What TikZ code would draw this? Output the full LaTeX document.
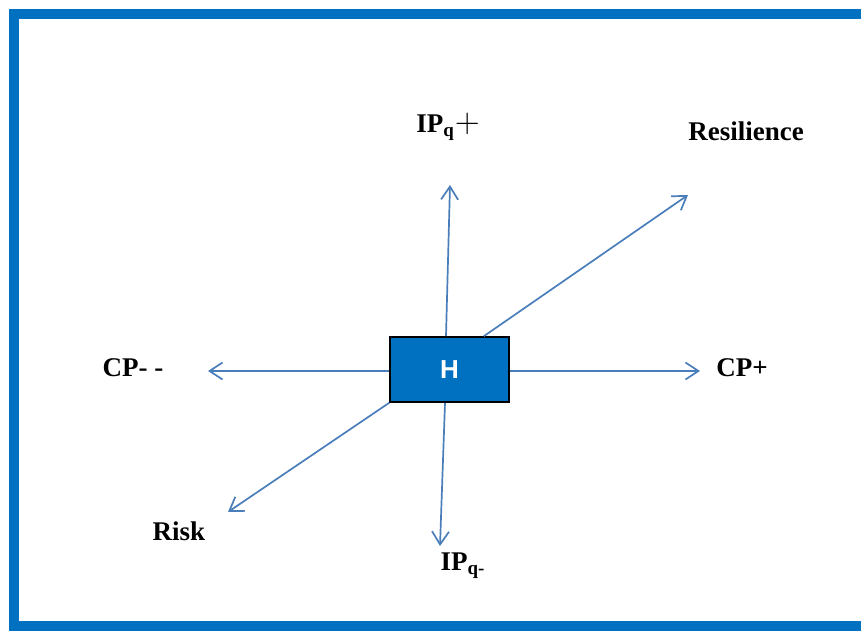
\documentclass[tikz,border=0pt]{standalone}
\usepackage{fontspec}
\setmainfont{Liberation Serif}
\setsansfont{Liberation Sans}
\usepackage{xcolor}
\usepackage{tikz}
\usetikzlibrary{arrows.meta}
\usetikzlibrary{positioning}
\definecolor{frameblue}{HTML}{0070C0}
\definecolor{boxblue}{HTML}{0070C0}
\definecolor{lineblue}{HTML}{4A7EBB}
\tikzset{
    hbox/.style = {rectangle, draw=black, thick, fill=boxblue, text=white, align=center, font=\sffamily\bfseries\fontsize{13}{15}\selectfont, minimum width=59.5pt, minimum height=32.5pt, inner sep=0pt},
    lbl/.style = {align=center, inner sep=0pt, font=\bfseries\fontsize{13.5}{15}\selectfont},
    edgea/.style = {-{Straight Barb[length=6.5pt,width=8.5pt]}, draw=lineblue, line width=0.85pt},
}

\begin{document}
\begin{tikzpicture}[x=0.5pt, y=-0.5pt]
\useasboundingbox (0,0) rectangle (861,631);
% frame
\begin{scope}
\clip (0,0) rectangle (861,631);
\draw[frameblue, line width=5pt] (14,14) rectangle (880,626);
\end{scope}
% centre box
\node[hbox] at (449.5,369.5) (H) {H};
% labels
\node[lbl] at (448,127) (ipp) {IP\textsubscript{q}{\mdseries\fontsize{16}{16}\selectfont$+$}};
\node[lbl] at (746,131) (res) {Resilience};
\node[lbl] at (742,368) (cpp) {CP+};
\node[lbl] at (133,368) (cpm) {CP- -};
\node[lbl] at (179,531) (risk) {Risk};
\node[lbl] at (463,566) (ipm) {IP\textsubscript{q-}};
% arrow ends
\coordinate (eup) at (450,185);
\coordinate (eres) at (688,195);
\coordinate (eright) at (700,371);
\coordinate (eleft) at (208,371);
\coordinate (edown) at (440,546);
\coordinate (erisk) at (228,512);
\draw[edgea] ([xshift=-1.75pt]H.north) to (eup);
\draw[edgea] ([xshift=-13pt]H.north east) to (eres);
\draw[edgea] ([yshift=-0.75pt]H.east) to (eright);
\draw[edgea] ([yshift=-0.75pt]H.west) to (eleft);
\draw[edgea] ([xshift=-2.25pt]H.south) to (edown);
\draw[edgea] (H.south west) to (erisk);
\end{tikzpicture}
\end{document}
